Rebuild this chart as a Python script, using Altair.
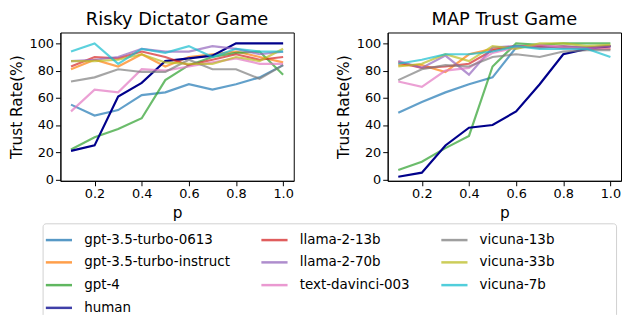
import altair as alt
import pandas as pd

p = [0.1, 0.2, 0.3, 0.4, 0.5, 0.6, 0.7, 0.8, 0.9, 1.0]

models = ["gpt-3.5-turbo-0613", "gpt-3.5-turbo-instruct", "gpt-4", "human",
          "llama-2-13b", "llama-2-70b", "text-davinci-003",
          "vicuna-13b", "vicuna-33b", "vicuna-7b"]
colors = ["#1f77b4", "#ff7f0e", "#2ca02c", "#00008b",
          "#d62728", "#9467bd", "#e377c2",
          "#7f7f7f", "#bcbd22", "#17becf"]

risky = {
    "gpt-3.5-turbo-0613": [55, 47, 51, 62, 64, 70, 66, 70, 75, 84],
    "gpt-3.5-turbo-instruct": [81, 88, 83, 92, 83, 90, 92, 94, 90, 86],
    "gpt-4": [22, 31, 37, 45, 73, 84, 90, 93, 94, 77],
    "human": [21, 25, 61, 71, 87, 89, 91, 100, 100, 100],
    "llama-2-13b": [83, 90, 89, 94, 90, 84, 88, 92, 88, 90],
    "llama-2-70b": [87, 88, 90, 96, 94, 94, 98, 96, 92, 94],
    "text-davinci-003": [50, 66, 64, 81, 80, 83, 86, 89, 85, 85],
    "vicuna-13b": [72, 75, 81, 79, 79, 88, 81, 81, 74, 84],
    "vicuna-33b": [87, 87, 88, 92, 86, 85, 85, 90, 87, 96],
    "vicuna-7b": [94, 100, 85, 96, 93, 98, 90, 96, 94, 94],
}

map_trust = {
    "gpt-3.5-turbo-0613": [49, 57, 64, 70, 75, 97, 98, 97, 97, 98],
    "gpt-3.5-turbo-instruct": [84, 84, 79, 92, 96, 98, 97, 98, 96, 96],
    "gpt-4": [7, 13, 23, 32, 83, 100, 99, 100, 100, 100],
    "human": [2, 5, 25, 38, 40, 50, 70, 92, 96, 98],
    "llama-2-13b": [86, 82, 83, 85, 95, 98, 98, 97, 97, 98],
    "llama-2-70b": [87, 82, 91, 77, 97, 98, 97, 98, 97, 98],
    "text-davinci-003": [72, 68, 80, 82, 93, 97, 99, 97, 96, 96],
    "vicuna-13b": [73, 81, 84, 83, 90, 92, 90, 94, 95, 95],
    "vicuna-33b": [83, 85, 92, 87, 98, 96, 100, 100, 98, 99],
    "vicuna-7b": [85, 88, 92, 92, 94, 98, 96, 96, 96, 90],
}

# row-major legend order reproducing the reference's column-major layout
legend_order = ["gpt-3.5-turbo-0613", "llama-2-13b", "vicuna-13b",
                "gpt-3.5-turbo-instruct", "llama-2-70b", "vicuna-33b",
                "gpt-4", "text-davinci-003", "vicuna-7b",
                "human"]


def to_df(d):
    rows = []
    for m in models:
        for x, v in zip(p, d[m]):
            rows.append({"p": x, "rate": v, "model": m,
                         "w": 1.0 if m == "human" else 0.7})
    return pd.DataFrame(rows)


FONT = "DejaVu Sans"
PAD = "\u2800" * 6

color = alt.Color(
    "model:N",
    scale=alt.Scale(domain=legend_order,
                    range=[colors[models.index(m)] for m in legend_order]),
    legend=alt.Legend(
        title=None, orient="none", direction="horizontal", legendX=-18, legendY=193,
        columns=3, symbolType="stroke", symbolSize=700,
        symbolStrokeWidth=2.5, labelFontSize=13.6, labelFont=FONT,
        labelColor="black", columnPadding=26, rowPadding=1,
        labelOffset=11, padding=2, strokeColor="#d0d0d0",
        cornerRadius=3, symbolOpacity=0.75, labelLimit=300,
        labelExpr=f"datum.label == 'vicuna-13b' ? datum.label + '{PAD}' : datum.label"))


def panel(d, title):
    return alt.Chart(to_df(d)).mark_line(strokeWidth=2.2).encode(
        x=alt.X("p:Q", title="p",
                scale=alt.Scale(domain=[0.055, 1.045], nice=False, zero=False),
                axis=alt.Axis(values=[0.2, 0.4, 0.6, 0.8, 1.0], format=".1f")),
        y=alt.Y("rate:Q", title="Trust Rate(%)",
                scale=alt.Scale(domain=[-1, 108], nice=False),
                axis=alt.Axis(values=[0, 20, 40, 60, 80, 100])),
        color=color,
        opacity=alt.Opacity("w:Q", scale=None, legend=None),
    ).properties(width=236, height=150, title=title)


chart = alt.hconcat(panel(risky, "Risky Dictator Game"),
                    panel(map_trust, "MAP Trust Game"), spacing=41).configure(
    padding={"left": 0, "top": 0, "right": 0, "bottom": 0}
).configure_view(stroke="black", strokeWidth=1).configure_axis(
    labelFont=FONT, titleFont=FONT, labelFontSize=13, titleFontSize=15.5,
    labelColor="black", titleColor="black", titleFontWeight="normal",
    domainColor="black", tickColor="black", grid=False, tickSize=5,
    labelPadding=2, titlePadding=5
).configure_title(font=FONT, fontSize=18, fontWeight="normal", color="black",
                  offset=0)

chart.save("out.html", embed_options={"renderer": "svg", "actions": False})
